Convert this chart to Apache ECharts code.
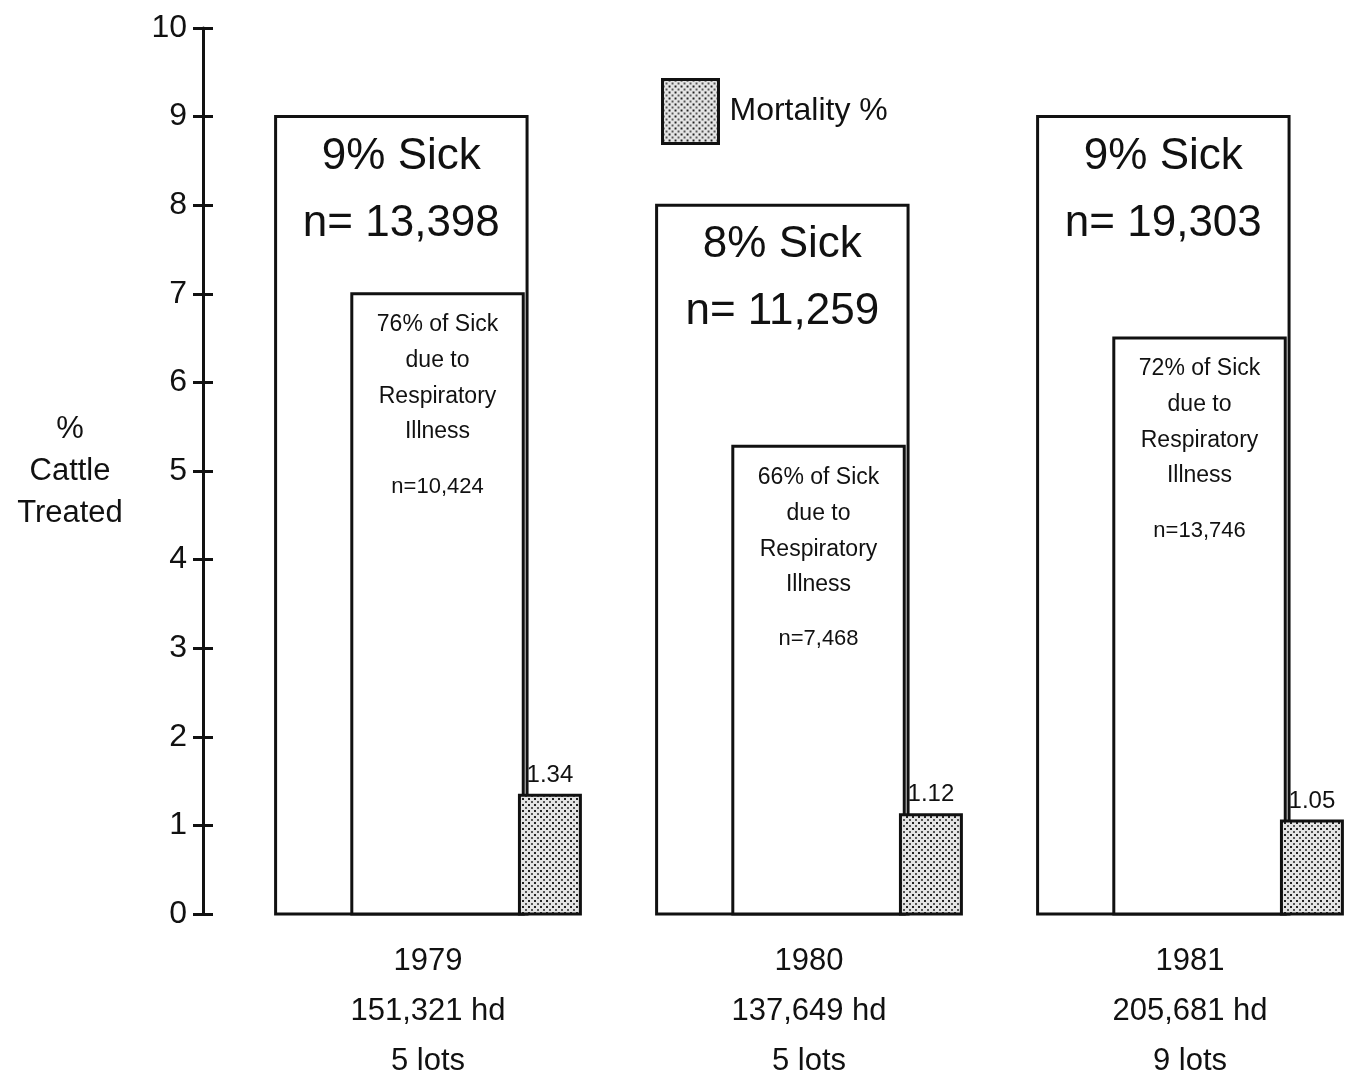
<!DOCTYPE html>
<html>
<head>
<meta charset="utf-8">
<title>Cattle treated</title>
<script src="https://cdn.jsdelivr.net/npm/echarts@6/dist/echarts.min.js"></script>
<style>
  html, body { margin: 0; padding: 0; background: #fff; }
  #chart { width: 1346px; height: 1086px; }
</style>
</head>
<body>
<div id="chart"></div>
<script>
// values
var years = ['1979', '1980', '1981'];
var herds = ['151,321 hd', '137,649 hd', '205,681 hd'];
var lots = ['5 lots', '5 lots', '9 lots'];
var sickPct = [9, 8, 9];
var sickN = ['13,398', '11,259', '19,303'];
var respShare = [76, 66, 72];
var respPct = [7.0, 5.28, 6.5];
var respN = ['10,424', '7,468', '13,746'];
var mortality = [1.34, 1.12, 1.05];
var yTicks = [0, 10, 1]; // min, max, step

var FONT = '"Liberation Sans", "DejaVu Sans", sans-serif';

// stipple fill for the mortality bars
function stipple() {
  var c = document.createElement('canvas');
  c.width = 6;
  c.height = 6;
  var ctx = c.getContext('2d');
  ctx.fillStyle = '#e4e4e4';
  ctx.fillRect(0, 0, 6, 6);
  ctx.fillStyle = '#222';
  ctx.fillRect(0, 0, 2, 2);
  ctx.fillStyle = '#555';
  ctx.fillRect(3, 3, 2, 2);
  return { image: c, repeat: 'repeat' };
}
var dots = stipple();

function txt(text, x, y, size) {
  return {
    type: 'text',
    style: {
      text: text, x: x, y: y,
      align: 'center', verticalAlign: 'middle',
      fontSize: size, fontFamily: FONT, fill: '#111'
    }
  };
}

// band = distance between two neighbouring years on the axis
function barShape(api, i, value, left, right) {
  var band = api.size([1, 0])[0];
  var base = api.coord([i, 0]);
  var top = api.coord([i, value]);
  var x0 = base[0] + left * band;
  var x1 = base[0] + right * band;
  return { x0: x0, x1: x1, top: top[1], base: base[1] };
}

var chart = echarts.init(document.getElementById('chart'));

var option = {
  backgroundColor: '#fff',
  animation: false,
  grid: { left: 428, right: 156, top: 28, bottom: 168 },
  legend: {
    left: 656, top: 73,
    itemWidth: 56, itemHeight: 64,
    itemGap: 10,
    data: [{
      name: 'Mortality %',
      icon: 'rect',
      itemStyle: { color: dots, borderColor: '#111', borderWidth: 3 }
    }],
    textStyle: { fontSize: 32, fontFamily: FONT, color: '#111', padding: [0, 0, 0, 6] }
  },
  xAxis: {
    type: 'category',
    data: years,
    boundaryGap: false,
    axisLine: { show: false },
    axisTick: { show: false },
    axisLabel: {
      margin: 22,
      fontFamily: FONT,
      color: '#111',
      fontSize: 31,
      lineHeight: 50,
      formatter: function (v, i) {
        return v + '\n' + herds[i] + '\n' + lots[i];
      }
    }
  },
  yAxis: [{
    type: 'value',
    min: yTicks[0], max: yTicks[1], interval: yTicks[2],
    offset: 225,
    name: '%\nCattle\nTreated',
    nameLocation: 'middle',
    nameRotate: 0,
    nameGap: 133,
    nameTextStyle: { fontSize: 31, fontFamily: FONT, color: '#111', lineHeight: 42, align: 'center' },
    splitLine: { show: false },
    axisLine: { show: true, lineStyle: { color: '#111', width: 3 } },
    axisTick: { show: true, inside: false, length: 10, lineStyle: { color: '#111', width: 3 } },
    axisLabel: { margin: 16, fontSize: 32, fontFamily: FONT, color: '#111' }
  }, {
    type: 'value',
    position: 'left',
    min: yTicks[0], max: yTicks[1], interval: yTicks[2],
    offset: 225,
    splitLine: { show: false },
    axisLine: { show: false },
    axisTick: { show: true, inside: true, length: 10, lineStyle: { color: '#111', width: 3 } },
    axisLabel: { show: false }
  }],
  series: [
    {
      name: 'Sick',
      type: 'custom',
      clip: false,
      data: sickPct.map(function (v, i) { return [i, v]; }),
      encode: { x: 0, y: 1 },
      renderItem: function (params, api) {
        var i = params.dataIndex;
        var b = barShape(api, i, api.value(1), -0.40, 0.26);
        var cx = (b.x0 + b.x1) / 2;
        return {
          type: 'group',
          children: [
            { type: 'rect', shape: { x: b.x0, y: b.top, width: b.x1 - b.x0, height: b.base - b.top },
              style: { fill: '#fff', stroke: '#111', lineWidth: 3 } },
            txt(sickPct[i] + '% Sick', cx, b.top + 40, 44),
            txt('n= ' + sickN[i], cx, b.top + 107, 44)
          ]
        };
      }
    },
    {
      name: 'Respiratory',
      type: 'custom',
      clip: false,
      data: respPct.map(function (v, i) { return [i, v]; }),
      encode: { x: 0, y: 1 },
      renderItem: function (params, api) {
        var i = params.dataIndex;
        var b = barShape(api, i, api.value(1), -0.20, 0.25);
        var cx = (b.x0 + b.x1) / 2;
        return {
          type: 'group',
          children: [
            { type: 'rect', shape: { x: b.x0, y: b.top, width: b.x1 - b.x0, height: b.base - b.top },
              style: { fill: '#fff', stroke: '#111', lineWidth: 3 } },
            txt(respShare[i] + '% of Sick', cx, b.top + 31, 23),
            txt('due to', cx, b.top + 67, 23),
            txt('Respiratory', cx, b.top + 103, 23),
            txt('Illness', cx, b.top + 138, 23),
            txt('n=' + respN[i], cx, b.top + 193, 22)
          ]
        };
      }
    },
    {
      name: 'Mortality %',
      type: 'custom',
      clip: false,
      itemStyle: { color: dots },
      data: mortality.map(function (v, i) { return [i, v]; }),
      encode: { x: 0, y: 1 },
      renderItem: function (params, api) {
        var i = params.dataIndex;
        var b = barShape(api, i, api.value(1), 0.24, 0.40);
        return {
          type: 'group',
          children: [
            { type: 'rect', shape: { x: b.x0, y: b.top, width: b.x1 - b.x0, height: b.base - b.top },
              style: { fill: dots, stroke: '#111', lineWidth: 3 } },
            txt(mortality[i].toFixed(2), (b.x0 + b.x1) / 2, b.top - 20, 24)
          ]
        };
      }
    }
  ]
};

chart.setOption(option);
</script>
</body>
</html>
